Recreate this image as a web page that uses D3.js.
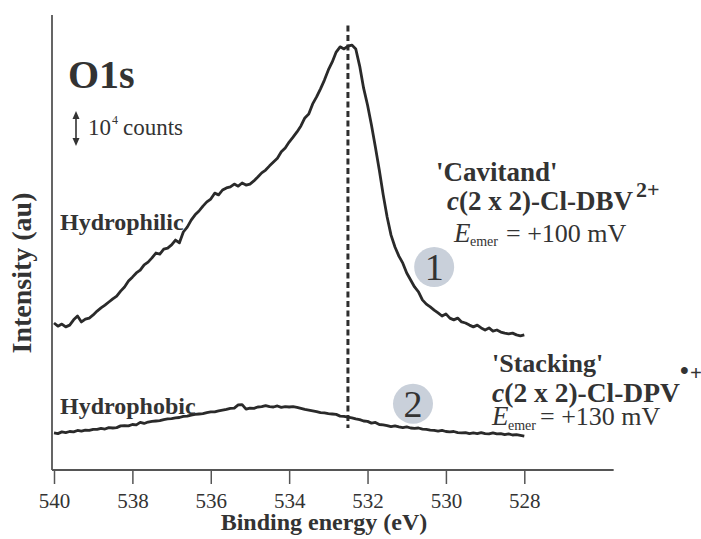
<!DOCTYPE html>
<html><head><meta charset="utf-8">
<script src="https://cdn.jsdelivr.net/npm/d3@7"></script>
<style>
html,body{margin:0;padding:0;background:#fff;}
svg text{font-family:"Liberation Serif","Times New Roman",serif;fill:#333;}
</style></head>
<body><svg id="c" width="701" height="539"></svg>
<script>
// Binding energy (eV)
const energies = [540.0,539.9,539.8,539.7,539.6,539.5,539.4,539.3,539.2,539.1,
539.0,538.9,538.8,538.7,538.6,538.5,538.4,538.3,538.2,538.1,
538.0,537.9,537.8,537.7,537.6,537.5,537.4,537.3,537.2,537.1,
537.0,536.9,536.8,536.7,536.6,536.5,536.4,536.3,536.2,536.1,
536.0,535.9,535.8,535.7,535.6,535.5,535.4,535.3,535.2,535.1,
535.0,534.9,534.8,534.7,534.6,534.5,534.4,534.3,534.2,534.1,
534.0,533.9,533.8,533.7,533.6,533.5,533.4,533.3,533.2,533.1,
533.0,532.9,532.8,532.7,532.6,532.5,532.4,532.3,532.2,532.1,
532.0,531.9,531.8,531.7,531.6,531.5,531.4,531.3,531.2,531.1,
531.0,530.9,530.8,530.7,530.6,530.5,530.4,530.3,530.2,530.1,
530.0,529.9,529.8,529.7,529.6,529.5,529.4,529.3,529.2,529.1,
529.0,528.9,528.8,528.7,528.6,528.5,528.4,528.3,528.2,528.1,
528.0];
// Intensity in 10^3 counts
const hydrophilic = [42.0,41.1,41.7,40.9,41.4,42.9,44.0,42.3,43.1,43.4,
44.3,45.4,46.3,47.1,48.0,48.9,49.7,51.1,52.3,54.0,
55.1,56.3,57.1,58.6,59.4,60.6,62.0,61.7,63.1,63.4,
64.3,65.7,64.9,68.0,69.4,71.4,72.9,74.0,75.4,76.6,
77.4,79.1,78.6,80.0,80.6,80.9,81.7,81.1,82.0,81.4,
81.7,82.6,83.7,84.9,85.7,86.9,88.0,89.1,90.9,92.0,
93.7,95.1,96.6,98.3,100.6,101.7,104.6,106.6,108.9,111.4,
114.3,116.6,119.4,120.9,120.3,121.1,121.4,120.3,115.4,109.1,
104.3,98.6,92.3,85.7,78.6,72.3,67.1,63.7,61.1,59.1,
56.3,54.3,52.3,50.9,48.6,47.4,46.6,45.7,44.9,44.0,
44.6,43.4,42.9,43.4,42.3,42.0,41.4,40.9,41.4,40.6,
40.0,40.6,39.7,40.0,39.4,39.1,38.9,39.1,38.6,38.3,
38.6];
const hydrophobic = [10.6,10.4,10.9,10.7,11.0,10.9,11.3,11.1,11.4,11.3,
11.6,11.6,11.9,11.7,12.1,12.0,12.1,12.6,12.7,12.6,
13.0,12.9,13.6,13.3,13.7,13.9,14.0,14.1,14.4,14.6,
14.7,14.9,15.0,15.3,15.4,15.7,15.9,16.0,16.1,16.4,
16.6,16.6,16.9,17.1,17.3,17.6,17.7,18.6,18.7,17.4,
17.7,17.6,18.0,18.1,18.4,18.1,18.0,18.3,17.9,18.1,
18.0,18.1,17.9,17.6,17.3,17.1,16.9,16.7,16.4,16.3,
16.1,16.0,15.9,15.4,15.3,15.1,14.9,14.6,14.4,14.0,
13.9,13.4,13.6,13.0,12.9,12.7,12.4,12.6,12.3,12.1,
12.3,12.0,11.9,12.0,11.7,11.6,11.4,11.3,11.1,11.3,
11.0,10.9,11.0,10.7,10.6,10.7,10.4,10.6,10.4,10.7,
10.4,10.3,10.6,10.3,10.4,10.1,10.3,10.0,10.1,9.9,
9.7];
const xTicks = [540,538,536,534,532,530,528];
const peakEnergy = 532.5;
const dashRange = [12, 127];   // 10^3 counts
const scaleBar = [92.6, 102.6]; // 10 x 10^3 counts = 10^4 counts
const markers = [{label: "1", e: 530.3, v: 58.0}, {label: "2", e: 530.84, v: 18.9}];

const svg = d3.select("#c");
const x = d3.scaleLinear().domain([540, 528]).range([54, 524.3]);
const y = d3.scaleLinear().domain([0, 130]).range([470, 15]);
const ink = "#333";

// numbered circles (behind curves)
markers.forEach(m => {
  svg.append("circle").attr("cx", x(m.e)).attr("cy", y(m.v)).attr("r", 20).attr("fill", "#c9d0da");
  svg.append("text").attr("x", x(m.e)).attr("y", y(m.v) + 13).attr("text-anchor", "middle").attr("font-size", 38).text(m.label);
});

// axes
const xAxis = d3.axisBottom(x).tickValues(xTicks).tickSize(14).tickPadding(5).tickFormat(d3.format("d"));
const gx = svg.append("g").attr("transform", `translate(0,${y(0)})`).call(xAxis);
gx.select(".domain").remove();
gx.selectAll(".tick line").attr("stroke", "#555").attr("stroke-width", 1.5);
gx.selectAll(".tick text").attr("font-family", "Liberation Serif").attr("font-size", 21).attr("fill", ink).attr("dy", "0.92em");
svg.append("line").attr("x1", 52).attr("x2", x(525.72)).attr("y1", y(0)).attr("y2", y(0)).attr("stroke", "#555").attr("stroke-width", 1.8);
svg.append("line").attr("x1", 52).attr("x2", 52).attr("y1", y(130)).attr("y2", y(0)).attr("stroke", "#555").attr("stroke-width", 1.8);

// dashed peak line
svg.append("line").attr("x1", x(peakEnergy)).attr("x2", x(peakEnergy))
  .attr("y1", y(dashRange[1])).attr("y2", y(dashRange[0]))
  .attr("stroke", "#2e2e2e").attr("stroke-width", 3).attr("stroke-dasharray", "6,3.5");

// curves
const line = d3.line().x(d => x(d[0])).y(d => y(d[1]));
[hydrophilic, hydrophobic].forEach(s => {
  svg.append("path").datum(energies.map((e, i) => [e, s[i]]))
    .attr("d", line).attr("fill", "none").attr("stroke", "#2a2a2a")
    .attr("stroke-width", 2.8).attr("stroke-linejoin", "round");
});

// axis titles
svg.append("text").attr("x", 324).attr("y", 530).attr("text-anchor", "middle")
  .attr("font-weight", "bold").attr("font-size", 24).text("Binding energy (eV)");
svg.append("text").attr("transform", "translate(31,273) rotate(-90)").attr("text-anchor", "middle")
  .attr("font-weight", "bold").attr("font-size", 28).text("Intensity (au)");

// labels
function t(xp, yp, str, size, opts = {}) {
  const el = svg.append("text").attr("x", xp).attr("y", yp).attr("font-size", size).text(str);
  if (opts.bold) el.attr("font-weight", "bold");
  if (opts.italic) el.attr("font-style", "italic");
  return el;
}
t(68, 88, "O1s", 40, {bold: true});
// scale bar arrow
const ax = 76;
svg.append("line").attr("x1", ax).attr("x2", ax).attr("y1", y(scaleBar[1]) + 4).attr("y2", y(scaleBar[0]) - 4).attr("stroke", ink).attr("stroke-width", 1.6);
svg.append("path").attr("d", `M${ax - 3.5},${y(scaleBar[1]) + 8} L${ax},${y(scaleBar[1])} L${ax + 3.5},${y(scaleBar[1]) + 8} Z`).attr("fill", ink);
svg.append("path").attr("d", `M${ax - 3.5},${y(scaleBar[0]) - 8} L${ax},${y(scaleBar[0])} L${ax + 3.5},${y(scaleBar[0]) - 8} Z`).attr("fill", ink);
t(88, 135, "10", 23);
t(112, 124, "4", 12);
t(123, 135, "counts", 23);

t(60, 230, "Hydrophilic", 24, {bold: true});
t(60, 414, "Hydrophobic", 24, {bold: true});

t(436, 181, "'Cavitand'", 27, {bold: true});
const l1 = t(447, 210, "", 27, {bold: true});
l1.append("tspan").attr("font-style", "italic").text("c");
l1.append("tspan").text("(2 x 2)-Cl-DBV");
t(636, 197, "2+", 22, {bold: true});
t(454, 242, "E", 27, {italic: true});
t(470, 246, "emer", 14);
t(506, 242, "= +100 mV", 26);

t(492, 372, "'Stacking'", 26, {bold: true});
const l2 = t(492, 402, "", 27.5, {bold: true});
l2.append("tspan").attr("font-style", "italic").text("c");
l2.append("tspan").text("(2 x 2)-Cl-DPV");
t(680, 379, "•", 25, {bold: true});
t(690, 380, "+", 21, {bold: true});
t(492, 425, "E", 27, {italic: true});
t(508, 430, "emer", 14);
t(540, 425, "= +130 mV", 26);
</script></body></html>
